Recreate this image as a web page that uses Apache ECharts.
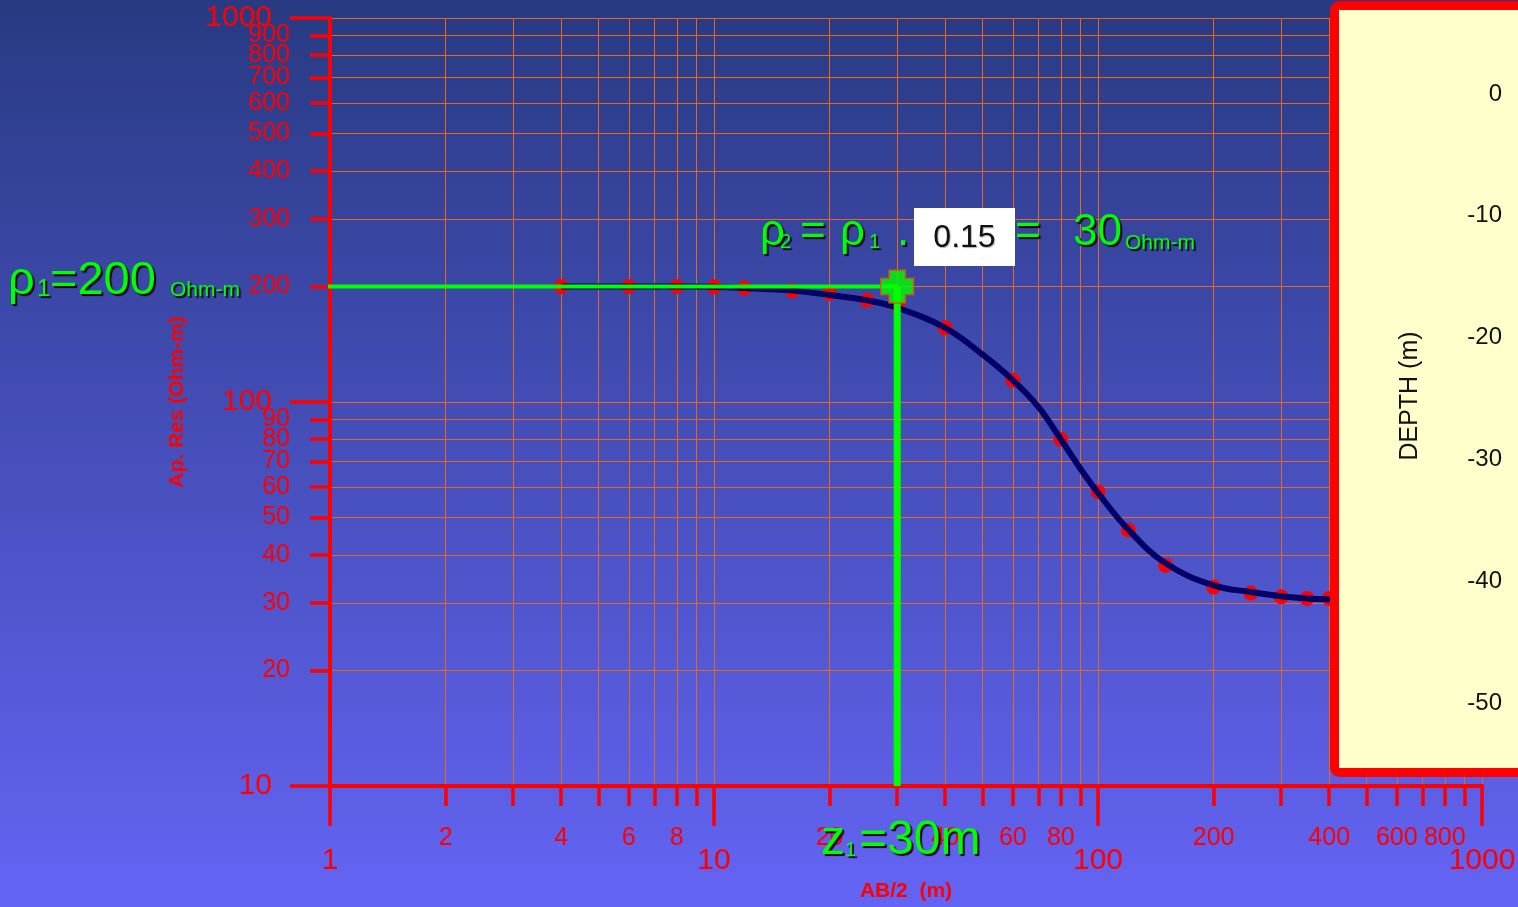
<!DOCTYPE html>
<html>
<head>
<meta charset="utf-8">
<script src="https://cdn.jsdelivr.net/npm/echarts@6/dist/echarts.min.js"></script>
<style>html,body{margin:0;padding:0;}#main{width:1518px;height:907px;}</style>
</head>
<body>
<div id="main"></div>
<script>
var font = "'Liberation Sans', Arial, sans-serif";

// field readings
var abHalf = [4, 6, 8, 10, 12, 16, 20, 25, 30, 40, 60, 80, 100, 120, 150, 200, 250, 300, 350, 400];
var apRes = [200, 200, 200, 199.5, 198, 195, 192, 184, 179, 156, 114, 80, 58.4, 46.4, 37.6, 33, 31.8, 31.1, 30.8, 30.8];

// fitted model curve
var modelX = [4, 6, 8, 10, 12, 16, 20, 25, 30, 40, 50, 60, 70, 80, 90, 100, 120, 150, 200, 250, 300, 350, 400, 450];
var modelY = [200, 200, 200, 199.5, 198, 195, 190, 184, 176, 156, 133, 114, 97, 80, 67, 58, 46.5, 38, 33.3, 32, 31.2, 30.8, 30.6, 30.5];

// interpretation lines
var rho1X = [0.95, 30];
var rho1Y = [200, 200];
var z1X = [30, 30];
var z1Y = [200, 10];

// ticks
var xMajor = [1, 10, 100, 1000];
var xMinor = [2, 3, 4, 5, 6, 7, 8, 9, 20, 30, 40, 50, 60, 70, 80, 90, 200, 300, 400, 500, 600, 700, 800, 900];
var xMinorLabels = [2, 4, 6, 8, 20, 40, 60, 80, 200, 400, 600, 800];
var yMajor = [10, 100, 1000];
var yMinor = [20, 30, 40, 50, 60, 70, 80, 90, 200, 300, 400, 500, 600, 700, 800, 900];
// 20 listed last so echarts' min/max overlap check keeps every label
var yMinorLabels = [30, 40, 50, 60, 70, 80, 90, 200, 300, 400, 500, 600, 700, 800, 900, 20];
var depthTicks = [0, -10, -20, -30, -40, -50];

function pairs(xs, ys) {
    return xs.map(function (x, i) { return [x, ys[i]]; });
}
function plain(v) { return String(v); }

var red = '#ff0000';
var gridColor = '#e8661e';
var green = '#00ff00';

function txt(s, x, y, size, extra) {
    var style = {
        text: s, x: 0, y: 0,
        font: size + 'px ' + font,
        fill: green,
        align: 'left', verticalAlign: 'middle',
        textAlign: 'left', textVerticalAlign: 'middle',
        textShadowColor: 'rgba(0,0,0,0.9)',
        textShadowOffsetX: 2, textShadowOffsetY: 2, textShadowBlur: 1
    };
    for (var k in extra) style[k] = extra[k];
    return { type: 'text', x: x, y: y, z: 80, style: style };
}

var chartDom = document.getElementById('main');
var myChart = echarts.init(chartDom);
var option;

option = {
    backgroundColor: {
        type: 'linear', x: 0, y: 0, x2: 0, y2: 1,
        colorStops: [{ offset: 0, color: '#283a82' }, { offset: 1, color: '#6464f4' }]
    },
    animation: false,
    grid: [
        { left: 330, right: 36, top: 18, bottom: 121, containLabel: false, outerBoundsMode: 'none' },
        { left: 1345, right: 8, top: 33, bottom: 143, containLabel: false, outerBoundsMode: 'none' }
    ],
    xAxis: [
        {
            type: 'log', logBase: 10, min: 1, max: 1000, gridIndex: 0, position: 'bottom',
            name: 'AB/2  (m)', nameLocation: 'middle', nameGap: 95,
            nameTextStyle: { color: red, fontSize: 21, fontWeight: 'bold', fontFamily: font },
            axisLine: { show: true, lineStyle: { color: red, width: 4 } },
            axisTick: { show: true, length: 40, customValues: xMajor, lineStyle: { color: red, width: 3.5 } },
            axisLabel: { customValues: xMajor, showMinLabel: true, showMaxLabel: true, margin: 60,
                color: red, fontSize: 30, fontFamily: font, formatter: plain },
            splitLine: { show: true, lineStyle: { color: gridColor, width: 1 } }
        },
        {
            type: 'log', logBase: 10, min: 1, max: 1000, gridIndex: 0, position: 'bottom',
            axisLine: { show: false },
            axisTick: { show: true, length: 20, customValues: xMinor, lineStyle: { color: red, width: 3.5 } },
            axisLabel: { customValues: xMinorLabels, showMinLabel: true, showMaxLabel: true, margin: 40,
                color: red, fontSize: 25, fontFamily: font, formatter: plain },
            splitLine: { show: true, lineStyle: { color: gridColor, width: 1 } }
        },
        { type: 'value', gridIndex: 1, show: false }
    ],
    yAxis: [
        {
            type: 'log', logBase: 10, min: 10, max: 1000, gridIndex: 0, position: 'left',
            name: 'Ap. Res (Ohm-m)', nameLocation: 'middle', nameGap: 142,
            nameTextStyle: { color: red, fontSize: 21, fontWeight: 'bold', fontFamily: font },
            axisLine: { show: true, lineStyle: { color: red, width: 4 } },
            axisTick: { show: true, length: 40, customValues: yMajor, lineStyle: { color: red, width: 3.5 } },
            axisLabel: { customValues: yMajor, showMinLabel: true, showMaxLabel: true, margin: 58,
                color: red, fontSize: 30, fontFamily: font, formatter: plain },
            splitLine: { show: true, lineStyle: { color: gridColor, width: 1 } }
        },
        {
            type: 'log', logBase: 10, min: 10, max: 1000, gridIndex: 0, position: 'left',
            axisLine: { show: false },
            axisTick: { show: true, length: 20, customValues: yMinor, lineStyle: { color: red, width: 3.5 } },
            axisLabel: { customValues: yMinorLabels, showMinLabel: true, showMaxLabel: true, margin: 40,
                color: red, fontSize: 25, fontFamily: font, formatter: plain },
            splitLine: { show: true, lineStyle: { color: gridColor, width: 1 } }
        },
        {
            type: 'value', min: -55, max: 5, gridIndex: 1, position: 'right', z: 60,
            axisLine: { show: false }, axisTick: { show: false }, splitLine: { show: false },
            axisLabel: { customValues: depthTicks, inside: true, margin: 8, color: '#111', fontSize: 24, fontFamily: font }
        }
    ],
    series: [
        {
            name: 'Field', type: 'scatter', xAxisIndex: 0, yAxisIndex: 0, z: 2,
            data: pairs(abHalf, apRes), symbol: 'circle', symbolSize: 15,
            itemStyle: { color: red, opacity: 1 }
        },
        {
            name: 'Model', type: 'line', xAxisIndex: 0, yAxisIndex: 0, z: 3,
            data: pairs(modelX, modelY), smooth: 0.4, symbol: 'none',
            lineStyle: { color: '#000066', width: 6 }
        },
        {
            name: 'rho1', type: 'line', xAxisIndex: 0, yAxisIndex: 0, z: 4, clip: false,
            data: pairs(rho1X, rho1Y), symbol: 'none',
            lineStyle: { color: green, width: 4 }
        },
        {
            name: 'z1', type: 'line', xAxisIndex: 0, yAxisIndex: 0, z: 4,
            data: pairs(z1X, z1Y), symbol: 'none',
            lineStyle: { color: green, width: 7 }
        },
        {
            name: 'pick', type: 'scatter', xAxisIndex: 0, yAxisIndex: 0, z: 5,
            data: [[z1X[0], rho1Y[0]]],
            symbol: 'path://M8,0H24V8H32V24H24V32H8V24H0V8H8Z', symbolSize: 33,
            itemStyle: { color: green, borderColor: '#ff3a10', borderWidth: 1.5 }
        }
    ],
    graphic: [
        {
            type: 'rect', z: 50,
            shape: { x: 1334.5, y: 5.5, width: 200, height: 767, r: 5 },
            style: { fill: '#ffffcc', stroke: red, lineWidth: 9 }
        },
        {
            type: 'text', z: 60, x: 1410, y: 396, rotation: Math.PI / 2,
            style: { text: 'DEPTH (m)', font: '25px ' + font, fill: '#111',
                align: 'center', verticalAlign: 'middle', textAlign: 'center', textVerticalAlign: 'middle' }
        },
        // rho1 = 200
        txt('\u03c1', 8, 281, 47),
        txt('1', 37, 289, 24),
        txt('=200', 50, 281, 47),
        txt('Ohm-m', 170, 290, 21),
        // rho2 = rho1 . 0.15 = 30
        txt('\u03c1', 760, 233, 44),
        txt('2', 780, 242, 20),
        txt('=', 800, 233, 44),
        txt('\u03c1', 840, 233, 44),
        txt('1', 869, 242, 20),
        txt('.', 897, 233, 44),
        {
            type: 'rect', z: 78,
            shape: { x: 914, y: 208, width: 101, height: 58 },
            style: { fill: '#ffffff' }
        },
        txt('0.15', 964.5, 238, 32, { fill: '#111', align: 'center', textAlign: 'center',
            textShadowColor: 'rgba(0,0,0,0.3)', textShadowOffsetX: 1, textShadowOffsetY: 1 }),
        txt('=', 1015, 233, 44),
        txt('30', 1073, 233, 44),
        txt('Ohm-m', 1125, 243, 21),
        // z1 = 30m
        txt('z', 821, 841, 48),
        txt('1', 845, 850, 20),
        txt('=30m', 859, 841, 48)
    ]
};

option && myChart.setOption(option);
</script>
</body>
</html>
